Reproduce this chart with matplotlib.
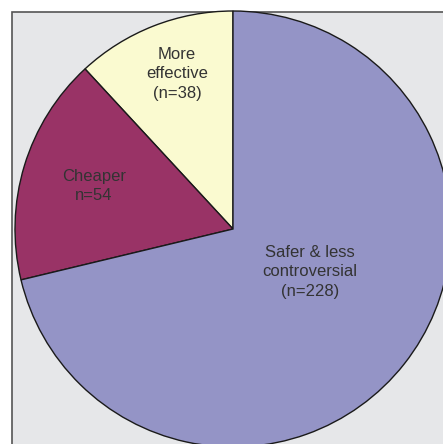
import numpy as np
import matplotlib.pyplot as plt
from matplotlib.patches import Rectangle

plt.rcParams['font.family'] = ['Liberation Sans', 'DejaVu Sans']

# reasons given, counts
etikete = ['More\neffective\n(n=38)', 'Cheaper\nn=54', 'Safer & less\ncontroversial\n(n=228)']
broj = [38, 54, 228]
boje = ['#fafad0', '#993366', '#9494c6']

W, H = 443, 444
f = plt.figure(figsize=(W / 100, H / 100), dpi=100)
ax = f.add_axes([0, 0, 1, 1])

# gray panel, running off the right and bottom edge
ax.add_patch(Rectangle((12, -10), W + 10, H - 12 + 10, facecolor='#e6e7e9',
                       edgecolor='#555555', lw=1.2, zorder=0))

cx, cy, r = 233, H - 229, 218
wedges, _ = ax.pie(broj, colors=boje, startangle=90, counterclock=True,
                   center=(cx, cy), radius=r, frame=True,
                   wedgeprops=dict(edgecolor='#1a1a1a', linewidth=1.0))
ax.set_xlim(0, W)
ax.set_ylim(0, H)
ax.set_aspect('auto')
ax.axis('off')

# label positions (pixels from top-left)
pozicije = [(177, 74), (94, 186), (310, 272)]
for t, (px, py) in zip(etikete, pozicije):
    ax.text(px, H - py, t, ha='center', va='center', fontsize=12,
            color='#333333', linespacing=1.4)

plt.savefig('out.png', dpi=100)
